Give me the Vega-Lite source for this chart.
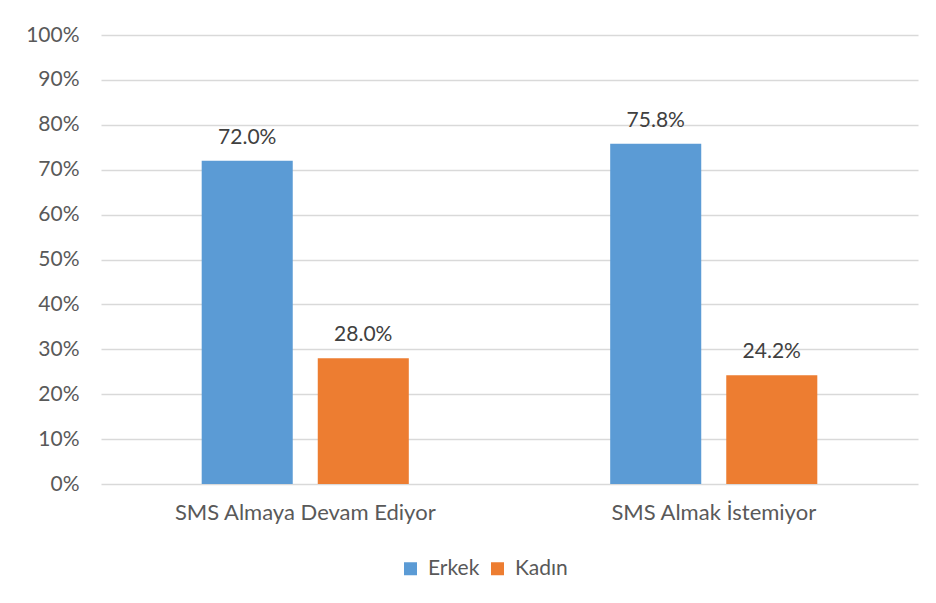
{
  "$schema": "https://vega.github.io/schema/vega-lite/v6.json",
  "width": 817,
  "height": 449,
  "autosize": {"type": "none"},
  "padding": {"left": 101, "top": 35, "right": 18, "bottom": 119},
  "background": "#ffffff",
  "config": {
    "font": "Lato",
    "view": {"stroke": null}
  },
  "data": {
    "values": [
      {"durum": "SMS Almaya Devam Ediyor", "cinsiyet": "Erkek", "oran": 0.720},
      {"durum": "SMS Almaya Devam Ediyor", "cinsiyet": "Kadın", "oran": 0.280},
      {"durum": "SMS Almak İstemiyor", "cinsiyet": "Erkek", "oran": 0.758},
      {"durum": "SMS Almak İstemiyor", "cinsiyet": "Kadın", "oran": 0.242}
    ]
  },
  "encoding": {
    "x": {
      "field": "durum",
      "type": "nominal",
      "sort": null,
      "title": null,
      "scale": {"paddingInner": 0.493, "paddingOuter": 0.2465},
      "axis": {
        "labelAngle": 0,
        "labelFontSize": 22,
        "labelColor": "#595959",
        "labelPadding": 18,
        "labelLimit": 0,
        "ticks": false,
        "domain": false
      }
    },
    "xOffset": {
      "field": "cinsiyet",
      "type": "nominal",
      "sort": ["Erkek", "Kadın"],
      "scale": {"paddingInner": 0.2155, "paddingOuter": 0}
    },
    "y": {
      "field": "oran",
      "type": "quantitative",
      "title": null,
      "scale": {"domain": [0, 1], "nice": false},
      "axis": {
        "values": [0, 0.1, 0.2, 0.3, 0.4, 0.5, 0.6, 0.7, 0.8, 0.9, 1],
        "format": ".0%",
        "labelFontSize": 21,
        "labelColor": "#595959",
        "labelPadding": 22,
        "ticks": false,
        "domain": false,
        "gridColor": "#d9d9d9",
        "gridWidth": 1.4
      }
    }
  },
  "layer": [
    {
      "mark": {"type": "bar"},
      "encoding": {
        "color": {
          "field": "cinsiyet",
          "type": "nominal",
          "sort": ["Erkek", "Kadın"],
          "title": null,
          "scale": {"domain": ["Erkek", "Kadın"], "range": ["#5B9BD5", "#ED7D31"]},
          "legend": {
            "orient": "none",
            "legendX": 299,
            "legendY": 523,
            "direction": "horizontal",
            "symbolType": "square",
            "symbolSize": 169,
            "symbolStrokeWidth": 0,
            "labelFontSize": 21,
            "labelColor": "#595959",
            "labelOffset": 7,
            "columnPadding": 7
          }
        }
      }
    },
    {
      "mark": {"type": "text", "dy": -17, "baseline": "alphabetic", "fontSize": 21, "color": "#404040"},
      "encoding": {
        "text": {"field": "oran", "type": "quantitative", "format": ".1%"}
      }
    }
  ]
}
